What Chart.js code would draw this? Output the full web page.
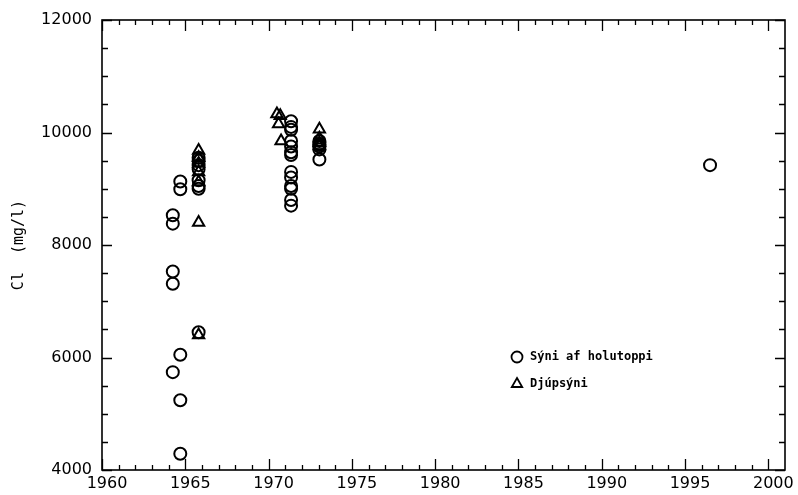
<!DOCTYPE html>
<html><head><meta charset="utf-8">
<script src="https://cdn.jsdelivr.net/npm/chart.js@4/dist/chart.umd.min.js"></script>
<style>html,body{margin:0;padding:0;background:#fff}#wrap{width:798px;height:495px}</style>
</head><body><div id="wrap"><canvas id="c" width="798" height="495"></canvas></div>
<script>
// ---- data ----
const seriesNames = ['Sýni af holutoppi', 'Djúpsýni'];
const surfaceYears = [
  1964.25, 1964.25, 1964.25, 1964.25, 1964.25,
  1964.7, 1964.7, 1964.7, 1964.7, 1964.7,
  1965.8, 1965.8, 1965.8, 1965.8, 1965.8, 1965.8, 1965.8, 1965.8,
  1971.35, 1971.35, 1971.35, 1971.35, 1971.35, 1971.35, 1971.35, 1971.35, 1971.35, 1971.35, 1971.35, 1971.35, 1971.35,
  1973.05, 1973.05, 1973.05, 1973.05, 1973.05, 1973.05,
  1996.5
];
const surfaceCl = [
  8530, 8380, 7530, 7310, 5740,
  9130, 8990, 6050, 5240, 4290,
  9550, 9500, 9420, 9350, 9150, 9050, 9000, 6450,
  10200, 10100, 10050, 9850, 9750, 9650, 9600, 9300, 9200, 9050, 9000, 8800, 8700,
  9850, 9800, 9780, 9750, 9700, 9520,
  9420
];
const deepYears = [
  1965.8, 1965.8, 1965.8, 1965.8, 1965.8, 1965.8, 1965.8,
  1970.5, 1970.7, 1970.6, 1970.75,
  1973.05, 1973.05, 1973.05, 1973.05
];
const deepCl = [
  9680, 9550, 9450, 9300, 9120, 8400, 6400,
  10330, 10300, 10150, 9850,
  10060, 9900, 9820, 9760
];
const xTickValues = [1960, 1965, 1970, 1975, 1980, 1985, 1990, 1995, 2000];
const yTickValues = [4000, 6000, 8000, 10000, 12000];
const yAxisTitle = 'Cl  (mg/l)';

const toPoints = (xs, ys) => xs.map((x, i) => ({x: x, y: ys[i]}));

// frame with inward ticks on all four sides
const framePlugin = {
  id: 'frame',
  beforeDatasetsDraw(chart) {
    const {ctx, chartArea: a, scales: {x, y}} = chart;
    ctx.save();
    ctx.strokeStyle = '#000';
    ctx.lineWidth = 1.6;
    ctx.strokeRect(a.left, a.top, a.right - a.left, a.bottom - a.top);
    ctx.lineWidth = 1.3;
    ctx.beginPath();
    for (let yr = 1960; yr <= 2000; yr++) {
      const px = Math.round(x.getPixelForValue(yr)) + 0.5;
      const len = yr % 5 === 0 ? 11 : 5;
      ctx.moveTo(px, a.bottom); ctx.lineTo(px, a.bottom - len);
      ctx.moveTo(px, a.top); ctx.lineTo(px, a.top + len);
    }
    for (let v = 4000; v <= 12000; v += 500) {
      const py = Math.round(y.getPixelForValue(v)) + 0.5;
      const len = v % 2000 === 0 ? 10 : 6;
      ctx.moveTo(a.left, py); ctx.lineTo(a.left + len, py);
      ctx.moveTo(a.right, py); ctx.lineTo(a.right - len, py);
    }
    ctx.stroke();
    ctx.restore();
  }
};

// legend inside the plot
const legendPlugin = {
  id: 'innerLegend',
  afterDraw(chart) {
    const {ctx, chartArea: a} = chart;
    ctx.save();
    const x0 = a.left + 415, y0 = a.top + 337, gap = 27;
    chart.data.datasets.forEach((ds, i) => {
      const yy = y0 + i * gap;
      ctx.strokeStyle = '#000';
      ctx.fillStyle = 'rgba(0,0,0,0)';
      ctx.lineWidth = 1.8;
      if (Chart.helpers && Chart.helpers.drawPoint) {
        Chart.helpers.drawPoint(ctx, {pointStyle: ds.pointStyle, radius: ds.pointRadius - 0.5, borderWidth: 1.8, rotation: 0}, x0, yy);
      }
      ctx.fillStyle = '#000';
      ctx.font = 'bold 12px "DejaVu Sans Mono"';
      ctx.textBaseline = 'middle';
      ctx.textAlign = 'left';
      ctx.fillText(ds.label, x0 + 13, yy);
    });
    ctx.restore();
  }
};

const tickFont = {family: 'DejaVu Sans', size: 16};

new Chart(document.getElementById('c'), {
  type: 'scatter',
  data: {
    datasets: [
      {label: seriesNames[0], data: toPoints(surfaceYears, surfaceCl), pointStyle: 'circle',
       pointRadius: 6, pointBorderWidth: 2, borderColor: '#000', backgroundColor: 'rgba(0,0,0,0)', clip: false},
      {label: seriesNames[1], data: toPoints(deepYears, deepCl), pointStyle: 'triangle',
       pointRadius: 6.5, pointBorderWidth: 2, borderColor: '#000', backgroundColor: 'rgba(0,0,0,0)', clip: false}
    ]
  },
  options: {
    responsive: false,
    animation: false,
    layout: {padding: {top: 20, right: 13, left: 0, bottom: 0}},
    plugins: {legend: {display: false}, tooltip: {enabled: false}},
    scales: {
      x: {
        type: 'linear', min: 1960, max: 2001,
        afterBuildTicks: s => { s.ticks = xTickValues.map(v => ({value: v})); },
        afterFit: s => { s.height = 25; },
        grid: {display: false, drawTicks: false},
        border: {display: false},
        ticks: {font: tickFont, color: '#000', padding: 4, maxRotation: 0, autoSkip: false, labelOffset: 5,
                callback: v => String(v)}
      },
      y: {
        type: 'linear', min: 4000, max: 12000,
        afterBuildTicks: s => { s.ticks = yTickValues.map(v => ({value: v})); },
        afterFit: s => { s.width = 102; },
        grid: {display: false, drawTicks: false},
        border: {display: false},
        ticks: {font: tickFont, color: '#000', padding: 10, callback: v => String(v)},
        title: {display: true, text: yAxisTitle, color: '#000',
                font: {family: 'DejaVu Sans Mono', size: 15}, padding: {top: 10, bottom: 0}}
      }
    }
  },
  plugins: [framePlugin, legendPlugin]
});
</script>
</body></html>
